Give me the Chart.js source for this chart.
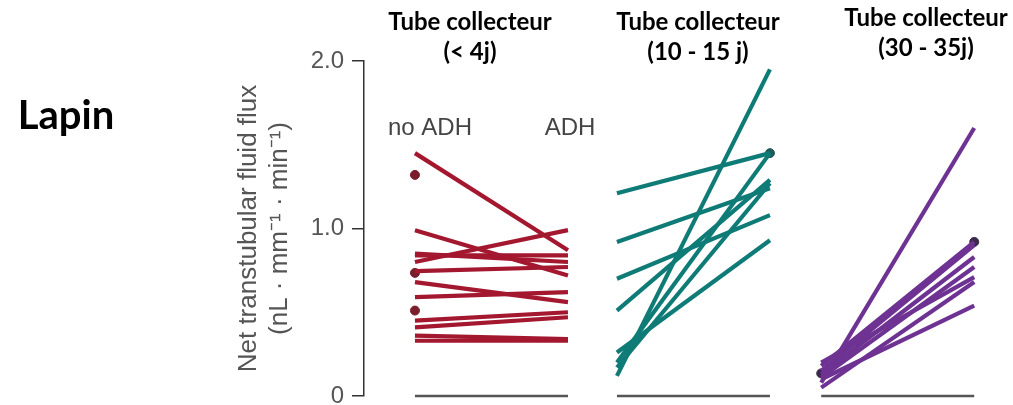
<!DOCTYPE html>
<html>
<head>
<meta charset="utf-8">
<script src="https://cdn.jsdelivr.net/npm/chart.js@4.4.1/dist/chart.umd.min.js"></script>
<style>
  html, body { margin: 0; padding: 0; background: #fff; }
  .chart-container { position: relative; width: 1013px; height: 405px; }
</style>
</head>
<body>
<div class="chart-container"><canvas id="fluxChart"></canvas></div>
<script>
// Net transtubular fluid flux per tubule, without ADH (left) and with ADH (right)
const ageGroups = ['(< 4j)', '(10 - 15 j)', '(30 - 35j)'];
const conditions = ['no ADH', 'ADH'];
const yTicks = [0, 1, 2];

const young_noAdh = [1.45, 0.99, 0.85, 0.84, 0.80, 0.745, 0.68, 0.59, 0.45, 0.41, 0.36, 0.33];
const young_adh   = [0.87, 0.72, 0.80, 0.84, 0.99, 0.77, 0.56, 0.62, 0.50, 0.47, 0.34, 0.33];
const young_single = [1.32, 0.735, 0.51]; // measured without ADH only

const mid_noAdh = [1.21, 0.92, 0.70, 0.51, 0.26, 0.20, 0.17, 0.12];
const mid_adh   = [1.45, 1.24, 1.08, 1.29, 0.93, 1.45, 1.27, 1.95];
const mid_single = [1.45]; // ADH only

const old_noAdh = [0.08, 0.18, 0.15, 0.13, 0.11, 0.20, 0.05, 0.10];
const old_adh   = [1.60, 0.92, 0.90, 0.83, 0.77, 0.71, 0.68, 0.54];
const old_singleNoAdh = [0.135];
const old_singleAdh = [0.92];

// x position of each panel's "no ADH" column (ADH column sits one unit to the right)
const panelX = [0, 1.32, 2.655];
const lineColors = ['#a3172f', '#0f7b77', '#6e3293'];
const dotColors = ['#7a1e2c', '#1f5a55', '#3a2a47'];

const datasets = [];

function addPairs(panel, before, after) {
  before.forEach((v, i) => {
    datasets.push({
      data: [{ x: panelX[panel], y: v }, { x: panelX[panel] + 1, y: after[i] }],
      borderColor: lineColors[panel],
      borderWidth: 4.2,
      borderCapStyle: 'butt',
      pointRadius: 0,
      clip: false
    });
  });
}

function addDots(panel, values, column) {
  datasets.push({
    data: values.map(v => ({ x: panelX[panel] + column, y: v })),
    showLine: false,
    pointRadius: 4.5,
    pointBackgroundColor: dotColors[panel],
    pointBorderColor: dotColors[panel],
    clip: false
  });
}

addPairs(0, young_noAdh, young_adh);
addPairs(1, mid_noAdh, mid_adh);
addPairs(2, old_noAdh, old_adh);
addDots(0, young_single, 0);
addDots(1, mid_single, 1);
addDots(2, old_singleNoAdh, 0);
addDots(2, old_singleAdh, 1);

// gray zero line under each panel
panelX.forEach(px => {
  datasets.push({
    data: [{ x: px, y: 0 }, { x: px + 1, y: 0 }],
    borderColor: '#555',
    borderWidth: 2.5,
    pointRadius: 0,
    clip: false
  });
});

const labelsPlugin = {
  id: 'labels',
  afterDraw(chart) {
    const ctx = chart.ctx;
    const xs = chart.scales.x;
    ctx.save();
    ctx.fillStyle = '#000';
    ctx.textAlign = 'center';
    ctx.textBaseline = 'middle';

    ctx.font = 'bold 40px Lato';
    ctx.fillText('Lapin', 66, 116);

    const titlePos = [[470, 22], [698, 22], [926, 18]];
    ctx.font = 'bold 24px Lato';
    ageGroups.forEach((g, i) => {
      const [tx, ty] = titlePos[i];
      ctx.fillText('Tube collecteur', tx, ty);
      ctx.fillText(g, tx, ty + 30);
    });

    ctx.fillStyle = '#444';
    ctx.font = '24px "Liberation Sans"';
    ctx.fillText(conditions[0], xs.getPixelForValue(panelX[0]) + 15, 128);
    ctx.fillText(conditions[1], xs.getPixelForValue(panelX[0] + 1) + 2, 128);
    ctx.restore();
  }
};

const ctx = document.getElementById('fluxChart').getContext('2d');
new Chart(ctx, {
  type: 'line',
  data: { datasets: datasets },
  options: {
    responsive: true,
    maintainAspectRatio: false,
    animation: false,
    layout: { padding: { left: 0, top: 61, right: 38, bottom: 9 } },
    plugins: {
      legend: { display: false },
      tooltip: { enabled: false }
    },
    scales: {
      x: { type: 'linear', display: false, min: -0.333, max: 3.66 },
      y: {
        min: 0,
        max: 2,
        afterBuildTicks(scale) { scale.ticks = yTicks.map(v => ({ value: v })); },
        afterFit(scale) {
          scale.width = 364;
          scale.paddingTop = 0;
          scale.paddingBottom = 0;
        },
        ticks: {
          callback: v => (v === 0 ? '0' : v.toFixed(1)),
          font: { family: 'Liberation Sans', size: 24 },
          color: '#555',
          padding: 8
        },
        grid: { drawOnChartArea: false, tickLength: 12, color: '#333', lineWidth: 1.5 },
        border: { color: '#333', width: 1.5 },
        title: {
          display: true,
          text: ['Net transtubular fluid flux', '(nL · mm⁻¹ · min⁻¹)'],
          font: { family: 'Liberation Sans', size: 26 },
          color: '#555',
          padding: { top: 233 }
        }
      }
    }
  },
  plugins: [labelsPlugin]
});
</script>
</body>
</html>
